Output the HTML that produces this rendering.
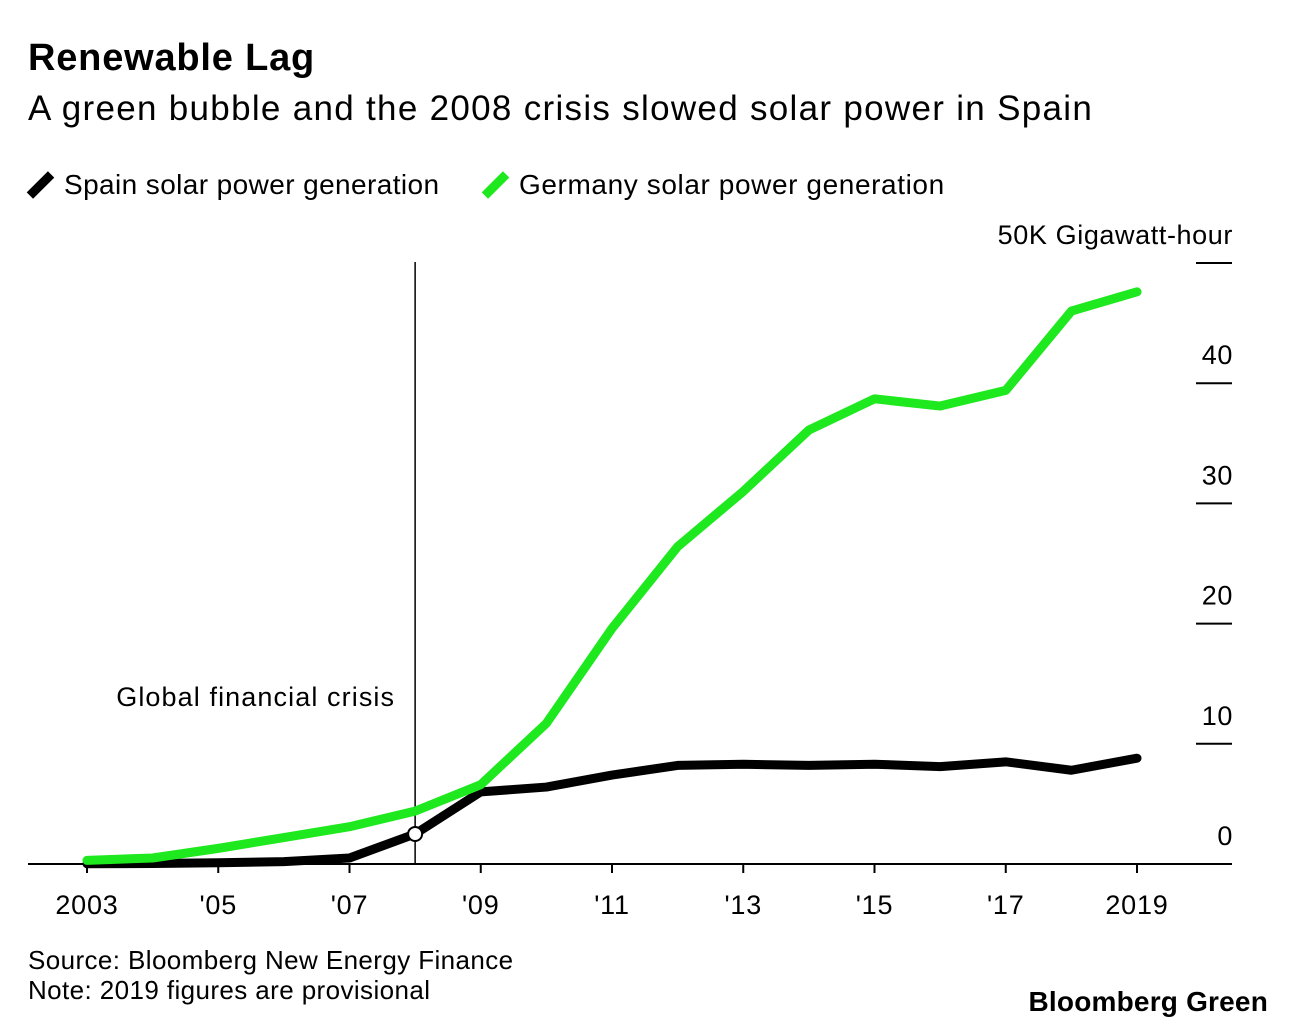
<!DOCTYPE html>
<html><head><meta charset="utf-8"><style>
body{margin:0;background:#fff;width:1296px;height:1030px;overflow:hidden;font-family:"Liberation Sans",sans-serif;color:#000}
.t{position:absolute;white-space:nowrap}
</style></head><body>
<div class="t" style="left:28px;top:37px;font-size:38px;font-weight:bold;letter-spacing:0.8px">Renewable Lag</div>
<div class="t" style="left:28px;top:89px;font-size:35px;letter-spacing:1.3px">A green bubble and the 2008 crisis slowed solar power in Spain</div>
<div class="t" style="left:28px;top:169px;font-size:28px;letter-spacing:0.4px"><span style="display:inline-block;width:9px;height:30px;background:#000;transform:rotate(45deg);margin:0 19px -6px 8px"></span>Spain solar power generation</div>
<div class="t" style="left:483px;top:169px;font-size:28px;letter-spacing:0.6px"><span style="display:inline-block;width:9px;height:30px;background:#1ee81e;transform:rotate(45deg);margin:0 19px -6px 8px"></span>Germany solar power generation</div>
<div class="t" style="left:28px;top:945px;font-size:26px;letter-spacing:0.4px">Source: Bloomberg New Energy Finance</div>
<div class="t" style="left:28px;top:975px;font-size:26px;letter-spacing:0.4px">Note: 2019 figures are provisional</div>
<div class="t" style="right:28px;top:986px;font-size:28px;font-weight:bold;letter-spacing:0.2px">Bloomberg Green</div>
<svg id="c" width="1296" height="1030" style="position:absolute;left:0;top:0"></svg>
<script>
const years=[2003,2004,2005,2006,2007,2008,2009,2010,2011,2012,2013,2014,2015,2016,2017,2018,2019];
const germany=[0.3,0.5,1.3,2.2,3.1,4.4,6.6,11.7,19.6,26.4,31,36.1,38.7,38.1,39.4,46,47.6];
const spain=[0.02,0.04,0.1,0.2,0.5,2.5,6,6.4,7.4,8.2,8.3,8.2,8.3,8.1,8.5,7.8,8.8];
const yTicks=[0,10,20,30,40,50];
const yTickLabels=["0","10","20","30","40","50K Gigawatt-hour"];
const xTicks=[2003,2005,2007,2009,2011,2013,2015,2017,2019];
const xTickLabels=["2003","'05","'07","'09","'11","'13","'15","'17","2019"];
const crisisYear=2008;
const NS="http://www.w3.org/2000/svg";
const svg=document.getElementById('c');
const x=v=>87+(v-2003)*(1137-87)/16;
const y=v=>864-v*(864-263)/50;
function mk(t,a){const e=document.createElementNS(NS,t);for(const k in a)e.setAttribute(k,a[k]);svg.appendChild(e);return e;}
yTicks.forEach((v,i)=>{
 const l=mk('line',{x1:1196,x2:1232,y1:y(v),y2:y(v),stroke:'#000','stroke-width':2});
 
 
 const t=mk('text',{x:1233,y:y(v)-19,'text-anchor':'end','font-size':27,'letter-spacing':0.6,'font-family':'Liberation Sans'});
 t.textContent=yTickLabels[i];
 
 
});
const base=mk('line',{x1:28,x2:1232,y1:y(0),y2:y(0),stroke:'#000','stroke-width':2});


xTicks.forEach((v,i)=>{
 const l=mk('line',{x1:x(v),x2:x(v),y1:y(0),y2:y(0)+9,stroke:'#000','stroke-width':2});
 
 
 const t=mk('text',{x:x(v),y:914,'text-anchor':'middle','font-size':27,'letter-spacing':0.8,'font-family':'Liberation Sans'});
 t.textContent=xTickLabels[i];
 
 
});
const cl=mk('line',{x1:x(crisisYear),x2:x(crisisYear),y1:262,y2:y(0),stroke:'#000','stroke-width':1.5});


const ct=mk('text',{x:x(crisisYear)-20,y:706,'text-anchor':'end','font-size':27,'letter-spacing':1.1,'font-family':'Liberation Sans'});
ct.textContent='Global financial crisis';


function line(data,color,name){
 const p=mk('polyline',{points:data.map((v,i)=>x(years[i])+','+y(v)).join(' '),fill:'none',stroke:color,'stroke-width':9,'stroke-linejoin':'round','stroke-linecap':'round'});
 
 
}
line(spain,'#000','spain-line');
line(germany,'#1ee81e','germany-line');
const ci=years.indexOf(crisisYear);
const c=mk('circle',{cx:x(crisisYear),cy:y(spain[ci]),r:7,fill:'#fff',stroke:'#000','stroke-width':2});


</script>
</body></html>
